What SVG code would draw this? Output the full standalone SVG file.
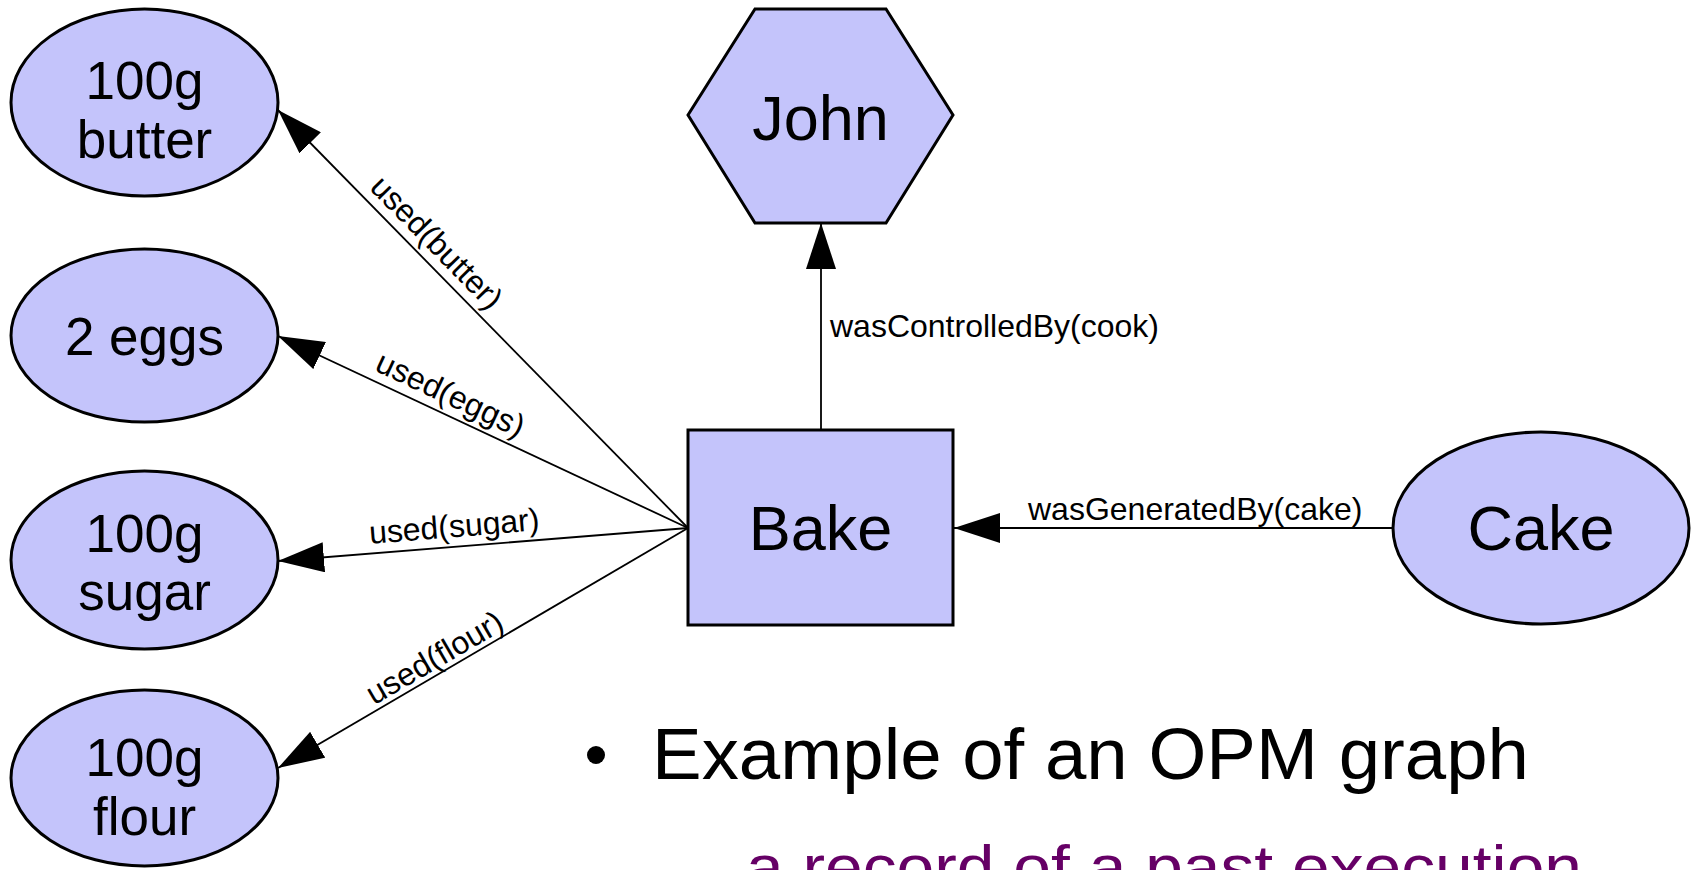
<svg xmlns="http://www.w3.org/2000/svg" width="1691" height="870" viewBox="0 0 1691 870">
<style>
.node{fill:#c4c4fb;stroke:#000;stroke-width:3}
.lbl{font-family:"Liberation Sans",Arial,sans-serif;fill:#000;text-anchor:middle}
.big{font-size:63px}
.mid{font-size:53px}
.edge{font-family:"Liberation Sans",Arial,sans-serif;font-size:32px;fill:#000}
.conn{stroke:#000;stroke-width:1.8;fill:none;marker-end:url(#arr)}
</style>
<defs>
<marker id="arr" markerUnits="userSpaceOnUse" markerWidth="46" markerHeight="30" refX="46" refY="15" orient="auto">
<path d="M0,0 L46,15 L0,30 Z" fill="#000"/>
</marker>
</defs>
<rect width="1691" height="870" fill="#fff"/>
<g id="connectors">
<line class="conn" x1="688" y1="528" x2="278" y2="110"/>
<line class="conn" x1="688" y1="528" x2="278" y2="336"/>
<line class="conn" x1="688" y1="528" x2="278" y2="561"/>
<line class="conn" x1="688" y1="528" x2="278" y2="768"/>
<line class="conn" x1="821" y1="430" x2="821" y2="223"/>
<line class="conn" x1="1392" y1="528" x2="954" y2="528"/>
<text class="edge" text-anchor="middle" transform="translate(429,250) rotate(45.5)">used(butter)</text>
<text class="edge" text-anchor="middle" transform="translate(446,404) rotate(25.1)">used(eggs)</text>
<text class="edge" text-anchor="middle" transform="translate(455,537) rotate(-4.6)">used(sugar)</text>
<text class="edge" text-anchor="middle" transform="translate(440,667) rotate(-30.3)">used(flour)</text>
<text class="edge" x="830" y="337">wasControlledBy(cook)</text>
<text class="edge" x="1028" y="520">wasGeneratedBy(cake)</text>
</g>
<g id="butter">
<ellipse class="node" cx="144.5" cy="102.5" rx="133.5" ry="93.5"/>
<text class="lbl mid" x="144.5" y="99">100g</text>
<text class="lbl mid" x="144.5" y="158">butter</text>
</g>
<g id="eggs">
<ellipse class="node" cx="144.5" cy="335.5" rx="133.5" ry="86.5"/>
<text class="lbl mid" x="144.5" y="355">2 eggs</text>
</g>
<g id="sugar">
<ellipse class="node" cx="144.5" cy="560" rx="133.5" ry="89"/>
<text class="lbl mid" x="144.5" y="552">100g</text>
<text class="lbl mid" x="144.5" y="610">sugar</text>
</g>
<g id="flour">
<ellipse class="node" cx="144.5" cy="778" rx="133.5" ry="88"/>
<text class="lbl mid" x="144.5" y="776">100g</text>
<text class="lbl mid" x="144.5" y="835">flour</text>
</g>
<g id="john">
<polygon class="node" points="688,115 755,9 886,9 953,115 886,223 755,223"/>
<text class="lbl big" x="820.5" y="140">John</text>
</g>
<g id="bake">
<rect class="node" x="688" y="430" width="265" height="195"/>
<text class="lbl big" x="820.5" y="550">Bake</text>
</g>
<g id="cake">
<ellipse class="node" cx="1541" cy="528" rx="148" ry="96"/>
<text class="lbl big" x="1541" y="550">Cake</text>
</g>
<g id="caption">
<circle cx="596" cy="755" r="9" fill="#000"/>
<text x="652" y="779" font-family="Liberation Sans, Arial, sans-serif" font-size="72" textLength="877" lengthAdjust="spacingAndGlyphs" fill="#000">Example of an OPM graph</text>
<text x="746" y="888" font-family="Liberation Sans, Arial, sans-serif" font-size="62" textLength="836" lengthAdjust="spacingAndGlyphs" fill="#660066">a record of a past execution</text>
</g>
</svg>
